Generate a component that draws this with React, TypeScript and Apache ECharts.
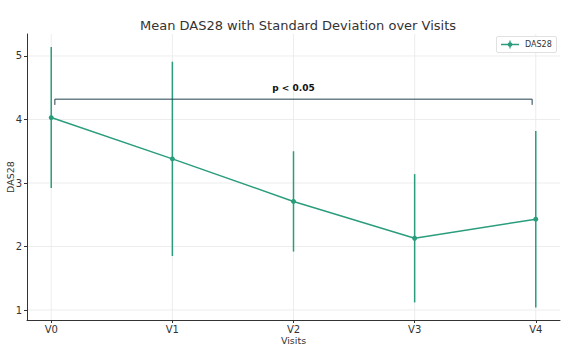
import React, { useEffect, useRef } from "react";
import * as echarts from "echarts";

const visits = ["V0", "V1", "V2", "V3", "V4"];
const meanValues = [4.03, 3.38, 2.71, 2.13, 2.43];
const sdValues = [1.11, 1.53, 0.79, 1.01, 1.39];
const yTicks = [1, 2, 3, 4, 5];
const bracket = { x0: 0.03, x1: 3.97, y: 4.32, drop: 0.09, label: "p < 0.05", labelY: 4.5 };

const COLOR = "#2a9d7c";
const FONT = "DejaVu Sans";

export default function App() {
  const ref = useRef<HTMLDivElement>(null);
  useEffect(() => {
    document.body.style.margin = "0";
    if (!ref.current) return;
    const chart = echarts.init(ref.current, null, { renderer: "svg" });
    const xIdx = visits.map((_, i) => i);
    const gridData = [
      ...xIdx.map((x) => [0, x]),
      ...yTicks.map((y) => [1, y]),
    ];
    chart.setOption({
      animation: false,
      textStyle: { fontFamily: FONT },
      title: {
        text: "Mean DAS28 with Standard Deviation over Visits",
        left: 293,
        top: 14,
        textAlign: "center",
        textStyle: { fontSize: 13, fontWeight: "normal", color: "#333", fontFamily: FONT },
      },
      grid: { left: 27, right: 11, top: 34, bottom: 29, containLabel: false, outerBoundsMode: "none" },
      xAxis: {
        type: "value",
        min: -0.2,
        max: 4.2,
        name: "Visits",
        nameLocation: "middle",
        nameGap: 15,
        nameMoveOverlap: false,
        nameTextStyle: { fontSize: 9.5, color: "#333", fontFamily: FONT },
        axisLine: { show: true, onZero: false, lineStyle: { color: "#333", width: 1 } },
        axisTick: { show: true, customValues: xIdx, length: 3, lineStyle: { color: "#333" } },
        axisLabel: {
          customValues: xIdx,
          formatter: (v: number) => visits[Math.round(v)] ?? "",
          fontSize: 10,
          color: "#333",
          margin: 4,
          fontFamily: FONT,
        },
        splitLine: { show: false },
      },
      yAxis: {
        type: "value",
        min: 0.843,
        max: 5.346,
        name: "DAS28",
        nameLocation: "middle",
        nameGap: 12,
        nameMoveOverlap: false,
        nameTextStyle: { fontSize: 9.5, color: "#333", fontFamily: FONT },
        axisLine: { show: true, onZero: false, lineStyle: { color: "#333", width: 1 } },
        axisTick: { show: true, customValues: yTicks, length: 3, lineStyle: { color: "#333" } },
        axisLabel: {
          customValues: yTicks,
          formatter: (v: number) => String(Math.round(v)),
          fontSize: 10,
          color: "#333",
          margin: 5,
          fontFamily: FONT,
        },
        splitLine: { show: false },
      },
      series: [
        {
          type: "custom",
          name: "grid",
          silent: true,
          z: 0,
          data: gridData,
          renderItem: (params: any, api: any) => {
            const cs = params.coordSys;
            const dir = api.value(0);
            const v = api.value(1);
            if (dir === 0) {
              const p = api.coord([v, 3]);
              return {
                type: "line",
                shape: { x1: p[0], y1: cs.y, x2: p[0], y2: cs.y + cs.height },
                style: { stroke: "#e8e8e8", lineWidth: 0.8 },
              };
            }
            const p = api.coord([0, v]);
            return {
              type: "line",
              shape: { x1: cs.x, y1: p[1], x2: cs.x + cs.width, y2: p[1] },
              style: { stroke: "#e8e8e8", lineWidth: 0.8 },
            };
          },
        },
        {
          type: "custom",
          name: "errors",
          data: meanValues.map((m, i) => [i, m - sdValues[i], m + sdValues[i]]),
          renderItem: (params: any, api: any) => {
            const lo = api.coord([api.value(0), api.value(1)]);
            const hi = api.coord([api.value(0), api.value(2)]);
            return {
              type: "line",
              shape: { x1: lo[0], y1: lo[1], x2: hi[0], y2: hi[1] },
              style: { stroke: COLOR, lineWidth: 1.5 },
            };
          },
          z: 3,
        },
        {
          type: "line",
          name: "DAS28",
          data: meanValues.map((m, i) => [i, m]),
          symbol: "circle",
          symbolSize: 5,
          lineStyle: { color: COLOR, width: 1.5 },
          itemStyle: { color: COLOR },
          z: 4,
        },
        {
          type: "custom",
          name: "bracket",
          data: [[bracket.x0, bracket.x1, bracket.y, bracket.drop, bracket.labelY]],
          renderItem: (params: any, api: any) => {
            const x0 = api.value(0), x1 = api.value(1), y = api.value(2), d = api.value(3), ly = api.value(4);
            const a = api.coord([x0, y - d]);
            const b = api.coord([x0, y]);
            const c = api.coord([x1, y]);
            const e = api.coord([x1, y - d]);
            const t = api.coord([(x0 + x1) / 2, ly]);
            return {
              type: "group",
              children: [
                {
                  type: "polyline",
                  shape: { points: [a, b, c, e] },
                  style: { stroke: "#22404f", lineWidth: 1, fill: "none" },
                },
                {
                  type: "text",
                  x: t[0],
                  y: t[1],
                  style: {
                    text: bracket.label,
                    fontSize: 9,
                    fontWeight: "bold",
                    fill: "#111",
                    align: "center",
                    verticalAlign: "middle",
                    fontFamily: FONT,
                  },
                },
              ],
            };
          },
          z: 5,
        },
      ],
      graphic: [
        {
          type: "rect",
          shape: { x: 496.5, y: 36.5, width: 60, height: 16, r: 1.5 },
          style: { fill: "#fff", stroke: "#d9d9d9", lineWidth: 0.8 },
          z: 10,
        },
        {
          type: "line",
          shape: { x1: 501, y1: 44.5, x2: 519, y2: 44.5 },
          style: { stroke: COLOR, lineWidth: 1.5 },
          z: 11,
        },
        {
          type: "line",
          shape: { x1: 510, y1: 40.5, x2: 510, y2: 48.5 },
          style: { stroke: COLOR, lineWidth: 1.2 },
          z: 11,
        },
        {
          type: "circle",
          shape: { cx: 510, cy: 44.5, r: 2.3 },
          style: { fill: COLOR },
          z: 11,
        },
        {
          type: "text",
          x: 525,
          y: 44.5,
          style: { text: "DAS28", fontSize: 8, fill: "#333", verticalAlign: "middle", fontFamily: FONT },
          z: 11,
        },
      ],
    });
    return () => chart.dispose();
  }, []);
  return <div ref={ref} style={{ width: 571, height: 349 }} />;
}
